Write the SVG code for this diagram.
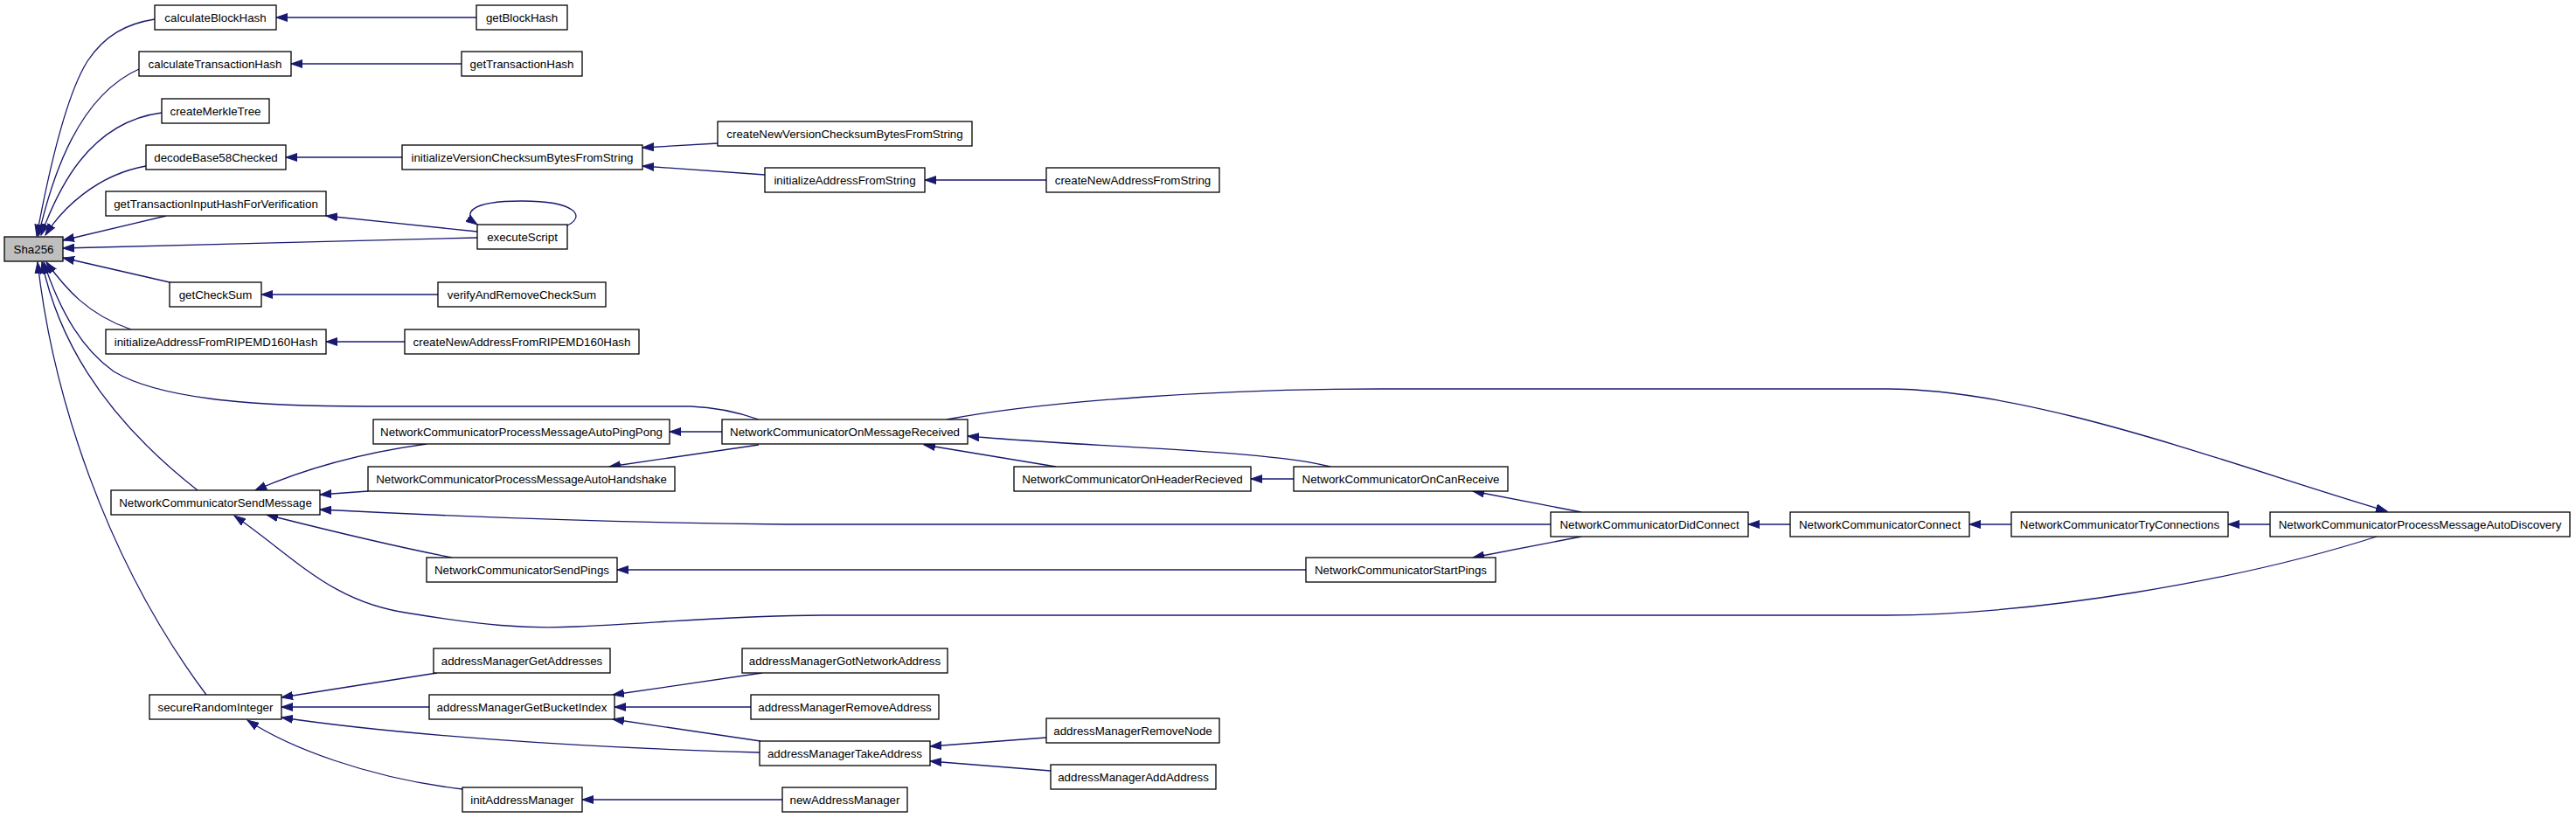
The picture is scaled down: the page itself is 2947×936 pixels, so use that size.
<svg xmlns="http://www.w3.org/2000/svg" width="2947" height="936" viewBox="0 0 2947 936">
<style>
.n rect{fill:#fff;stroke:#000;stroke-width:1.3}
.n text{font-family:"Liberation Sans",Arial,sans-serif;font-size:13.33px;fill:#000;text-anchor:middle}
#sha256 rect{fill:#bfbfbf}
#edges path{fill:none;stroke:#191970;stroke-width:1.3;marker-start:url(#ah)}
</style>
<defs>
<marker id="ah" markerUnits="userSpaceOnUse" markerWidth="14" markerHeight="10" viewBox="0 0 14 10" refX="13" refY="5" orient="auto-start-reverse">
<path d="M0,0.5 L13,5 L0,9.5 z" fill="#191970" stroke="#191970" stroke-width="1"/>
</marker>
</defs>
<rect width="2947" height="936" fill="#fff"/>
<g id="edges">
<path d="M316,20 L545,20"/>
<path d="M333,73 L528,73"/>
<path d="M327,180 L460,180"/>
<path d="M735,169 L821,164"/>
<path d="M735,190 L875,200"/>
<path d="M1058,206 L1197,206"/>
<path d="M373,247 L546,265"/>
<path d="M72,284 L546,272"/>
<path d="M546,257 C530,246 533,230 597,230 C660,230 670,248 649,258"/>
<path d="M299,337 L501,337"/>
<path d="M373,391 L463,391"/>
<path d="M42,270 C55,200 75,110 100,70 C120,40 145,27 177,22"/>
<path d="M44,270 C60,200 90,110 159,79"/>
<path d="M47,269 C65,220 100,140 185,129"/>
<path d="M52,269 C70,240 110,200 167,190"/>
<path d="M72,275 L190,247"/>
<path d="M72,295 L194,323"/>
<path d="M53,300 C75,330 100,360 150,377"/>
<path d="M50,300 C70,360 95,400 130,425 C180,455 280,465 420,465 L790,465 C820,466 845,472 868,480"/>
<path d="M48,300 C65,380 110,470 226,561"/>
<path d="M43,300 C60,450 120,640 236,795"/>
<path d="M292,561 C340,540 400,520 488,508"/>
<path d="M366,566 L421,562"/>
<path d="M366,583 C500,590 700,598 900,600 L1774,600"/>
<path d="M305,589 C380,608 450,625 517,638"/>
<path d="M268,590 C340,640 380,690 470,702 C550,715 600,720 660,717 C760,712 850,704 940,704 L2158,704 C2330,703 2560,665 2719,614"/>
<path d="M766,494 L826,494"/>
<path d="M697,534 L868,509"/>
<path d="M1057,509 L1208,534"/>
<path d="M1107,499 C1250,512 1450,515 1522,534"/>
<path d="M1431,548 L1480,548"/>
<path d="M1685,562 L1809,586"/>
<path d="M1685,638 L1809,614"/>
<path d="M706,652 L1494,652"/>
<path d="M2000,600 L2048,600"/>
<path d="M2253,600 L2301,600"/>
<path d="M2549,600 L2597,600"/>
<path d="M2731,585 C2560,535 2330,445 2158,445 L1582,445 C1400,445 1200,458 1083,480"/>
<path d="M322,798 L500,770"/>
<path d="M322,809 L491,809"/>
<path d="M322,821 C450,840 650,855 869,861"/>
<path d="M283,824 C330,855 420,890 529,903"/>
<path d="M701,795 L872,770"/>
<path d="M703,809 L859,809"/>
<path d="M701,823 L870,848"/>
<path d="M1064,854 L1197,844"/>
<path d="M1064,871 L1202,882"/>
<path d="M666,915 L895,915"/>
</g>
<g id="sha256" class="n"><rect x="5" y="271" width="67" height="28"/><text x="38.5" y="289.5">Sha256</text></g>
<g id="calculateBlockHash" class="n"><rect x="177" y="6" width="139" height="28"/><text x="246.5" y="24.5">calculateBlockHash</text></g>
<g id="calculateTransactionHash" class="n"><rect x="159" y="59" width="174" height="28"/><text x="246" y="77.5">calculateTransactionHash</text></g>
<g id="createMerkleTree" class="n"><rect x="185" y="113" width="123" height="28"/><text x="246.5" y="131.5">createMerkleTree</text></g>
<g id="decodeBase58Checked" class="n"><rect x="167" y="166" width="160" height="28"/><text x="247" y="184.5">decodeBase58Checked</text></g>
<g id="getTransactionInputHashForVerification" class="n"><rect x="121" y="219" width="252" height="28"/><text x="247" y="237.5">getTransactionInputHashForVerification</text></g>
<g id="getCheckSum" class="n"><rect x="194" y="323" width="105" height="28"/><text x="246.5" y="341.5">getCheckSum</text></g>
<g id="initializeAddressFromRIPEMD160Hash" class="n"><rect x="121" y="377" width="252" height="28"/><text x="247" y="395.5">initializeAddressFromRIPEMD160Hash</text></g>
<g id="NetworkCommunicatorSendMessage" class="n"><rect x="127" y="561" width="239" height="28"/><text x="246.5" y="579.5">NetworkCommunicatorSendMessage</text></g>
<g id="secureRandomInteger" class="n"><rect x="171" y="795" width="151" height="28"/><text x="246.5" y="813.5">secureRandomInteger</text></g>
<g id="getBlockHash" class="n"><rect x="545" y="6" width="104" height="28"/><text x="597" y="24.5">getBlockHash</text></g>
<g id="getTransactionHash" class="n"><rect x="528" y="59" width="138" height="28"/><text x="597" y="77.5">getTransactionHash</text></g>
<g id="initializeVersionChecksumBytesFromString" class="n"><rect x="460" y="166" width="275" height="28"/><text x="597.5" y="184.5">initializeVersionChecksumBytesFromString</text></g>
<g id="executeScript" class="n"><rect x="546" y="257" width="103" height="28"/><text x="597.5" y="275.5">executeScript</text></g>
<g id="verifyAndRemoveCheckSum" class="n"><rect x="501" y="323" width="192" height="28"/><text x="597" y="341.5">verifyAndRemoveCheckSum</text></g>
<g id="createNewAddressFromRIPEMD160Hash" class="n"><rect x="463" y="377" width="268" height="28"/><text x="597" y="395.5">createNewAddressFromRIPEMD160Hash</text></g>
<g id="NetworkCommunicatorProcessMessageAutoPingPong" class="n"><rect x="427" y="480" width="339" height="28"/><text x="596.5" y="498.5">NetworkCommunicatorProcessMessageAutoPingPong</text></g>
<g id="NetworkCommunicatorProcessMessageAutoHandshake" class="n"><rect x="421" y="534" width="351" height="28"/><text x="596.5" y="552.5">NetworkCommunicatorProcessMessageAutoHandshake</text></g>
<g id="NetworkCommunicatorSendPings" class="n"><rect x="488" y="638" width="218" height="28"/><text x="597" y="656.5">NetworkCommunicatorSendPings</text></g>
<g id="addressManagerGetAddresses" class="n"><rect x="496" y="742" width="202" height="28"/><text x="597" y="760.5">addressManagerGetAddresses</text></g>
<g id="addressManagerGetBucketIndex" class="n"><rect x="491" y="795" width="212" height="28"/><text x="597" y="813.5">addressManagerGetBucketIndex</text></g>
<g id="initAddressManager" class="n"><rect x="529" y="901" width="137" height="28"/><text x="597.5" y="919.5">initAddressManager</text></g>
<g id="createNewVersionChecksumBytesFromString" class="n"><rect x="821" y="139" width="291" height="28"/><text x="966.5" y="157.5">createNewVersionChecksumBytesFromString</text></g>
<g id="initializeAddressFromString" class="n"><rect x="875" y="192" width="183" height="28"/><text x="966.5" y="210.5">initializeAddressFromString</text></g>
<g id="NetworkCommunicatorOnMessageReceived" class="n"><rect x="826" y="480" width="281" height="28"/><text x="966.5" y="498.5">NetworkCommunicatorOnMessageReceived</text></g>
<g id="addressManagerGotNetworkAddress" class="n"><rect x="849" y="742" width="235" height="28"/><text x="966.5" y="760.5">addressManagerGotNetworkAddress</text></g>
<g id="addressManagerRemoveAddress" class="n"><rect x="859" y="795" width="215" height="28"/><text x="966.5" y="813.5">addressManagerRemoveAddress</text></g>
<g id="addressManagerTakeAddress" class="n"><rect x="869" y="848" width="195" height="28"/><text x="966.5" y="866.5">addressManagerTakeAddress</text></g>
<g id="newAddressManager" class="n"><rect x="895" y="901" width="143" height="28"/><text x="966.5" y="919.5">newAddressManager</text></g>
<g id="createNewAddressFromString" class="n"><rect x="1197" y="192" width="198" height="28"/><text x="1296" y="210.5">createNewAddressFromString</text></g>
<g id="NetworkCommunicatorOnHeaderRecieved" class="n"><rect x="1160" y="534" width="271" height="28"/><text x="1295.5" y="552.5">NetworkCommunicatorOnHeaderRecieved</text></g>
<g id="addressManagerRemoveNode" class="n"><rect x="1197" y="822" width="198" height="28"/><text x="1296" y="840.5">addressManagerRemoveNode</text></g>
<g id="addressManagerAddAddress" class="n"><rect x="1202" y="875" width="189" height="28"/><text x="1296.5" y="893.5">addressManagerAddAddress</text></g>
<g id="NetworkCommunicatorOnCanReceive" class="n"><rect x="1480" y="534" width="245" height="28"/><text x="1602.5" y="552.5">NetworkCommunicatorOnCanReceive</text></g>
<g id="NetworkCommunicatorStartPings" class="n"><rect x="1494" y="638" width="217" height="28"/><text x="1602.5" y="656.5">NetworkCommunicatorStartPings</text></g>
<g id="NetworkCommunicatorDidConnect" class="n"><rect x="1774" y="586" width="226" height="28"/><text x="1887" y="604.5">NetworkCommunicatorDidConnect</text></g>
<g id="NetworkCommunicatorConnect" class="n"><rect x="2048" y="586" width="205" height="28"/><text x="2150.5" y="604.5">NetworkCommunicatorConnect</text></g>
<g id="NetworkCommunicatorTryConnections" class="n"><rect x="2301" y="586" width="248" height="28"/><text x="2425" y="604.5">NetworkCommunicatorTryConnections</text></g>
<g id="NetworkCommunicatorProcessMessageAutoDiscovery" class="n"><rect x="2597" y="586" width="343" height="28"/><text x="2768.5" y="604.5">NetworkCommunicatorProcessMessageAutoDiscovery</text></g>
</svg>
